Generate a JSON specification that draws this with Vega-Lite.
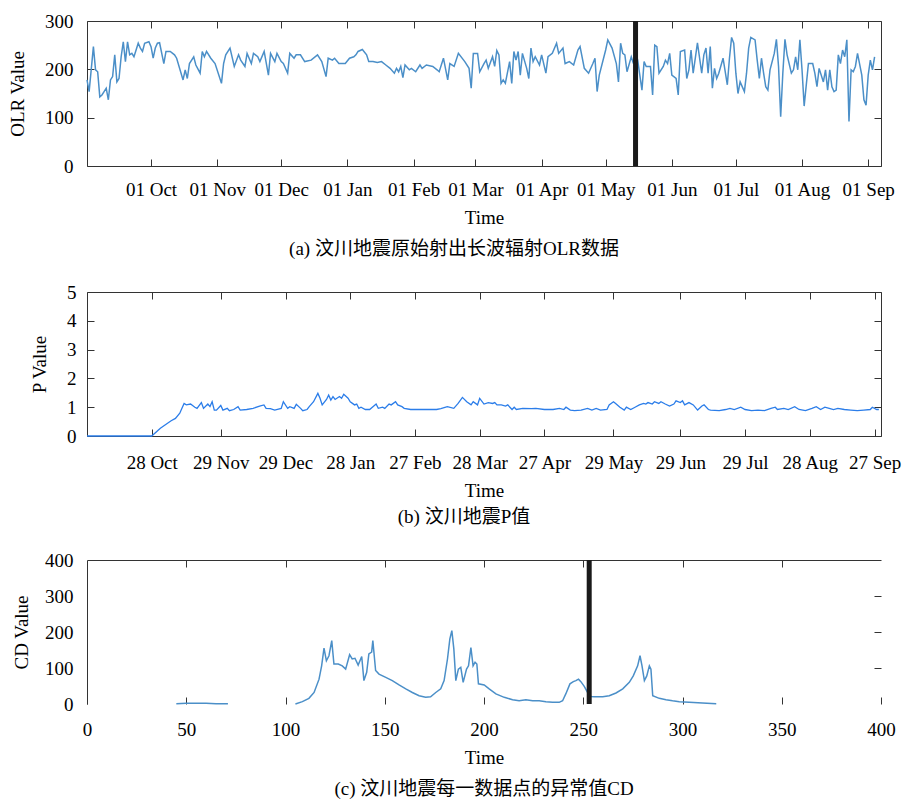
{
  "$schema": "https://vega.github.io/schema/vega-lite/v6.json",
  "padding": {"left": 8, "top": 12, "right": 2, "bottom": 2},
  "spacing": 24,
  "config": {
    "view": {"stroke": null},
    "axis": {
      "grid": false,
      "labelFont": "Liberation Serif",
      "labelFontSize": 19,
      "labelColor": "#000",
      "titleFont": "Liberation Serif",
      "titleFontSize": 19,
      "titleFontWeight": "normal",
      "titleColor": "#000",
      "domainColor": "#333",
      "tickColor": "#333",
      "tickSize": -7,
      "labelOverlap": false,
      "labelFlush": false
    },
    "title": {
      "font": "Liberation Serif, Noto Sans CJK SC",
      "fontSize": 19,
      "fontWeight": "normal",
      "color": "#000",
      "orient": "bottom",
      "anchor": "middle"
    }
  },
  "datasets": {
    "olr": [
      {"date":"2007-09-01","olr":178},{"date":"2007-09-02","olr":154},{"date":"2007-09-04","olr":247},{"date":"2007-09-05","olr":199},{"date":"2007-09-06","olr":195},{"date":"2007-09-07","olr":143},{"date":"2007-09-08","olr":147},{"date":"2007-09-09","olr":154},{"date":"2007-09-10","olr":161},{"date":"2007-09-11","olr":137},{"date":"2007-09-12","olr":178},{"date":"2007-09-13","olr":185},{"date":"2007-09-14","olr":230},{"date":"2007-09-15","olr":174},{"date":"2007-09-16","olr":181},{"date":"2007-09-17","olr":226},{"date":"2007-09-18","olr":257},{"date":"2007-09-19","olr":216},{"date":"2007-09-20","olr":257},{"date":"2007-09-21","olr":230},{"date":"2007-09-22","olr":233},{"date":"2007-09-23","olr":226},{"date":"2007-09-24","olr":240},{"date":"2007-09-25","olr":254},{"date":"2007-09-26","olr":244},{"date":"2007-09-27","olr":237},{"date":"2007-09-28","olr":254},{"date":"2007-09-30","olr":257},
      {"date":"2007-10-01","olr":247},{"date":"2007-10-02","olr":223},{"date":"2007-10-03","olr":244},{"date":"2007-10-04","olr":254},{"date":"2007-10-05","olr":255},{"date":"2007-10-07","olr":212},{"date":"2007-10-08","olr":237},{"date":"2007-10-10","olr":237},{"date":"2007-10-12","olr":230},{"date":"2007-10-13","olr":223},{"date":"2007-10-16","olr":178},{"date":"2007-10-17","olr":199},{"date":"2007-10-18","olr":181},{"date":"2007-10-19","olr":212},{"date":"2007-10-21","olr":226},{"date":"2007-10-22","olr":209},{"date":"2007-10-24","olr":192},{"date":"2007-10-25","olr":237},{"date":"2007-10-26","olr":226},{"date":"2007-10-27","olr":237},{"date":"2007-10-29","olr":223},{"date":"2007-10-31","olr":212},
      {"date":"2007-11-03","olr":171},{"date":"2007-11-04","olr":212},{"date":"2007-11-05","olr":230},{"date":"2007-11-07","olr":244},{"date":"2007-11-09","olr":206},{"date":"2007-11-11","olr":230},{"date":"2007-11-12","olr":219},{"date":"2007-11-14","olr":206},{"date":"2007-11-15","olr":233},{"date":"2007-11-17","olr":212},{"date":"2007-11-18","olr":233},{"date":"2007-11-20","olr":226},{"date":"2007-11-21","olr":216},{"date":"2007-11-23","olr":237},{"date":"2007-11-25","olr":188},{"date":"2007-11-26","olr":233},{"date":"2007-11-28","olr":216},{"date":"2007-11-29","olr":233},
      {"date":"2007-12-01","olr":216},{"date":"2007-12-02","olr":212},{"date":"2007-12-04","olr":192},{"date":"2007-12-05","olr":233},{"date":"2007-12-07","olr":223},{"date":"2007-12-08","olr":230},{"date":"2007-12-10","olr":230},{"date":"2007-12-12","olr":216},{"date":"2007-12-15","olr":219},{"date":"2007-12-18","olr":230},{"date":"2007-12-20","olr":216},{"date":"2007-12-22","olr":185},{"date":"2007-12-23","olr":223},{"date":"2007-12-25","olr":219},{"date":"2007-12-26","olr":223},{"date":"2007-12-28","olr":212},{"date":"2007-12-31","olr":212},
      {"date":"2008-01-02","olr":223},{"date":"2008-01-04","olr":226},{"date":"2008-01-05","olr":230},{"date":"2008-01-06","olr":237},{"date":"2008-01-08","olr":241},{"date":"2008-01-10","olr":230},{"date":"2008-01-11","olr":216},{"date":"2008-01-13","olr":216},{"date":"2008-01-15","olr":214},{"date":"2008-01-17","olr":216},{"date":"2008-01-19","olr":209},{"date":"2008-01-21","olr":202},{"date":"2008-01-23","olr":192},{"date":"2008-01-24","olr":202},{"date":"2008-01-25","olr":195},{"date":"2008-01-26","olr":206},{"date":"2008-01-27","olr":183},{"date":"2008-01-28","olr":209},{"date":"2008-01-30","olr":199},{"date":"2008-01-31","olr":202},
      {"date":"2008-02-02","olr":195},{"date":"2008-02-04","olr":209},{"date":"2008-02-05","olr":202},{"date":"2008-02-07","olr":209},{"date":"2008-02-10","olr":206},{"date":"2008-02-12","olr":199},{"date":"2008-02-13","olr":195},{"date":"2008-02-15","olr":223},{"date":"2008-02-17","olr":178},{"date":"2008-02-18","olr":212},{"date":"2008-02-20","olr":206},{"date":"2008-02-22","olr":233},{"date":"2008-02-25","olr":216},{"date":"2008-02-27","olr":202},{"date":"2008-02-28","olr":161},{"date":"2008-02-29","olr":233},
      {"date":"2008-03-02","olr":233},{"date":"2008-03-03","olr":195},{"date":"2008-03-05","olr":212},{"date":"2008-03-06","olr":219},{"date":"2008-03-07","olr":202},{"date":"2008-03-09","olr":226},{"date":"2008-03-10","olr":206},{"date":"2008-03-11","olr":239},{"date":"2008-03-12","olr":230},{"date":"2008-03-13","olr":171},{"date":"2008-03-14","olr":178},{"date":"2008-03-15","olr":171},{"date":"2008-03-17","olr":216},{"date":"2008-03-18","olr":171},{"date":"2008-03-19","olr":237},{"date":"2008-03-20","olr":219},{"date":"2008-03-21","olr":237},{"date":"2008-03-22","olr":188},{"date":"2008-03-23","olr":233},{"date":"2008-03-25","olr":202},{"date":"2008-03-26","olr":181},{"date":"2008-03-27","olr":244},{"date":"2008-03-28","olr":216},{"date":"2008-03-29","olr":226},{"date":"2008-03-31","olr":209},
      {"date":"2008-04-01","olr":230},{"date":"2008-04-03","olr":192},{"date":"2008-04-04","olr":226},{"date":"2008-04-06","olr":233},{"date":"2008-04-08","olr":254},{"date":"2008-04-09","olr":233},{"date":"2008-04-11","olr":244},{"date":"2008-04-12","olr":212},{"date":"2008-04-14","olr":216},{"date":"2008-04-16","olr":209},{"date":"2008-04-18","olr":240},{"date":"2008-04-19","olr":247},{"date":"2008-04-21","olr":202},{"date":"2008-04-23","olr":192},{"date":"2008-04-25","olr":212},{"date":"2008-04-26","olr":223},{"date":"2008-04-27","olr":154},{"date":"2008-04-28","olr":188},
      {"date":"2008-05-01","olr":240},{"date":"2008-05-02","olr":261},{"date":"2008-05-04","olr":244},{"date":"2008-05-06","olr":212},{"date":"2008-05-07","olr":174},{"date":"2008-05-08","olr":254},{"date":"2008-05-09","olr":233},{"date":"2008-05-10","olr":230},{"date":"2008-05-11","olr":195},{"date":"2008-05-13","olr":226},{"date":"2008-05-14","olr":212},{"date":"2008-05-15","olr":237},{"date":"2008-05-16","olr":219},{"date":"2008-05-18","olr":157},{"date":"2008-05-19","olr":216},{"date":"2008-05-20","olr":206},{"date":"2008-05-22","olr":206},{"date":"2008-05-23","olr":147},{"date":"2008-05-24","olr":250},{"date":"2008-05-25","olr":247},{"date":"2008-05-26","olr":192},{"date":"2008-05-28","olr":206},{"date":"2008-05-29","olr":219},{"date":"2008-05-30","olr":212},{"date":"2008-05-31","olr":233},
      {"date":"2008-06-01","olr":188},{"date":"2008-06-03","olr":181},{"date":"2008-06-04","olr":147},{"date":"2008-06-05","olr":237},{"date":"2008-06-07","olr":240},{"date":"2008-06-08","olr":181},{"date":"2008-06-09","olr":199},{"date":"2008-06-10","olr":240},{"date":"2008-06-11","olr":192},{"date":"2008-06-12","olr":223},{"date":"2008-06-13","olr":255},{"date":"2008-06-15","olr":192},{"date":"2008-06-16","olr":230},{"date":"2008-06-17","olr":244},{"date":"2008-06-18","olr":192},{"date":"2008-06-19","olr":247},{"date":"2008-06-20","olr":161},{"date":"2008-06-21","olr":202},{"date":"2008-06-22","olr":181},{"date":"2008-06-23","olr":192},{"date":"2008-06-25","olr":223},{"date":"2008-06-27","olr":168},{"date":"2008-06-28","olr":223},{"date":"2008-06-29","olr":266},{"date":"2008-06-30","olr":254},
      {"date":"2008-07-01","olr":192},{"date":"2008-07-02","olr":150},{"date":"2008-07-03","olr":174},{"date":"2008-07-05","olr":154},{"date":"2008-07-06","olr":192},{"date":"2008-07-07","olr":244},{"date":"2008-07-08","olr":266},{"date":"2008-07-10","olr":261},{"date":"2008-07-11","olr":219},{"date":"2008-07-12","olr":181},{"date":"2008-07-13","olr":223},{"date":"2008-07-14","olr":192},{"date":"2008-07-15","olr":164},{"date":"2008-07-16","olr":157},{"date":"2008-07-17","olr":199},{"date":"2008-07-19","olr":233},{"date":"2008-07-20","olr":262},{"date":"2008-07-21","olr":206},{"date":"2008-07-22","olr":102},{"date":"2008-07-23","olr":192},{"date":"2008-07-24","olr":262},{"date":"2008-07-25","olr":230},{"date":"2008-07-27","olr":192},{"date":"2008-07-28","olr":199},{"date":"2008-07-29","olr":226},{"date":"2008-07-30","olr":199},{"date":"2008-07-31","olr":261},
      {"date":"2008-08-01","olr":199},{"date":"2008-08-02","olr":124},{"date":"2008-08-04","olr":212},{"date":"2008-08-06","olr":212},{"date":"2008-08-07","olr":192},{"date":"2008-08-08","olr":164},{"date":"2008-08-09","olr":202},{"date":"2008-08-11","olr":174},{"date":"2008-08-12","olr":199},{"date":"2008-08-13","olr":157},{"date":"2008-08-14","olr":199},{"date":"2008-08-15","olr":164},{"date":"2008-08-16","olr":154},{"date":"2008-08-17","olr":157},{"date":"2008-08-18","olr":230},{"date":"2008-08-19","olr":212},{"date":"2008-08-20","olr":240},{"date":"2008-08-21","olr":226},{"date":"2008-08-22","olr":261},{"date":"2008-08-23","olr":92},{"date":"2008-08-24","olr":199},{"date":"2008-08-25","olr":195},{"date":"2008-08-26","olr":206},{"date":"2008-08-27","olr":233},{"date":"2008-08-29","olr":188},{"date":"2008-08-30","olr":137},{"date":"2008-08-31","olr":126},
      {"date":"2008-09-01","olr":188},{"date":"2008-09-02","olr":219},{"date":"2008-09-03","olr":199},{"date":"2008-09-04","olr":226}
    ],
    "pval": [
      {"date":"2007-09-28","p":0},{"date":"2007-10-28","p":0},{"date":"2007-11-01","p":0.27},{"date":"2007-11-06","p":0.53},{"date":"2007-11-08","p":0.61},{"date":"2007-11-10","p":0.79},{"date":"2007-11-11","p":0.96},{"date":"2007-11-12","p":1.13},{"date":"2007-11-13","p":1.08},{"date":"2007-11-15","p":1.11},{"date":"2007-11-17","p":1.0},{"date":"2007-11-18","p":0.96},{"date":"2007-11-20","p":1.16},{"date":"2007-11-21","p":0.96},{"date":"2007-11-23","p":1.11},{"date":"2007-11-24","p":1.02},{"date":"2007-11-25","p":1.19},{"date":"2007-11-26","p":0.9},{"date":"2007-11-27","p":0.9},{"date":"2007-11-29","p":1.06},{"date":"2007-11-30","p":0.9},
      {"date":"2007-12-02","p":0.96},{"date":"2007-12-03","p":0.88},{"date":"2007-12-05","p":0.92},{"date":"2007-12-07","p":1.02},{"date":"2007-12-08","p":0.9},{"date":"2007-12-11","p":0.92},{"date":"2007-12-14","p":0.96},{"date":"2007-12-17","p":1.04},{"date":"2007-12-19","p":1.08},{"date":"2007-12-20","p":0.96},{"date":"2007-12-22","p":0.95},{"date":"2007-12-24","p":0.9},{"date":"2007-12-27","p":0.96},{"date":"2007-12-28","p":1.19},{"date":"2007-12-30","p":0.96},{"date":"2007-12-31","p":1.02},
      {"date":"2008-01-02","p":0.96},{"date":"2008-01-03","p":1.1},{"date":"2008-01-05","p":0.96},{"date":"2008-01-06","p":0.88},{"date":"2008-01-08","p":0.92},{"date":"2008-01-09","p":1.02},{"date":"2008-01-11","p":1.19},{"date":"2008-01-13","p":1.48},{"date":"2008-01-14","p":1.31},{"date":"2008-01-15","p":1.08},{"date":"2008-01-17","p":1.27},{"date":"2008-01-18","p":1.42},{"date":"2008-01-19","p":1.25},{"date":"2008-01-20","p":1.37},{"date":"2008-01-21","p":1.27},{"date":"2008-01-23","p":1.37},{"date":"2008-01-24","p":1.31},{"date":"2008-01-25","p":1.45},{"date":"2008-01-27","p":1.31},{"date":"2008-01-28","p":1.19},{"date":"2008-01-30","p":1.08},{"date":"2008-01-31","p":1.11},
      {"date":"2008-02-01","p":0.96},{"date":"2008-02-02","p":1.0},{"date":"2008-02-04","p":0.92},{"date":"2008-02-06","p":0.92},{"date":"2008-02-09","p":1.11},{"date":"2008-02-10","p":0.96},{"date":"2008-02-12","p":1.0},{"date":"2008-02-13","p":0.96},{"date":"2008-02-15","p":1.11},{"date":"2008-02-16","p":1.08},{"date":"2008-02-18","p":1.19},{"date":"2008-02-19","p":1.08},{"date":"2008-02-21","p":1.02},{"date":"2008-02-22","p":0.96},{"date":"2008-02-25","p":0.92},{"date":"2008-02-29","p":0.92},
      {"date":"2008-03-05","p":0.92},{"date":"2008-03-08","p":0.92},{"date":"2008-03-10","p":0.95},{"date":"2008-03-13","p":1.02},{"date":"2008-03-16","p":0.96},{"date":"2008-03-18","p":1.13},{"date":"2008-03-20","p":1.34},{"date":"2008-03-22","p":1.19},{"date":"2008-03-24","p":1.08},{"date":"2008-03-25","p":1.19},{"date":"2008-03-27","p":1.08},{"date":"2008-03-28","p":1.31},{"date":"2008-03-30","p":1.11},
      {"date":"2008-04-01","p":1.16},{"date":"2008-04-03","p":1.13},{"date":"2008-04-04","p":1.16},{"date":"2008-04-05","p":1.08},{"date":"2008-04-07","p":1.08},{"date":"2008-04-09","p":1.04},{"date":"2008-04-10","p":1.08},{"date":"2008-04-12","p":0.92},{"date":"2008-04-13","p":1.0},{"date":"2008-04-14","p":0.92},{"date":"2008-04-17","p":0.96},{"date":"2008-04-21","p":0.95},{"date":"2008-04-23","p":0.96},{"date":"2008-04-27","p":0.92},
      {"date":"2008-05-01","p":0.92},{"date":"2008-05-04","p":0.96},{"date":"2008-05-06","p":0.92},{"date":"2008-05-07","p":1.0},{"date":"2008-05-09","p":0.9},{"date":"2008-05-11","p":0.88},{"date":"2008-05-14","p":0.9},{"date":"2008-05-17","p":0.96},{"date":"2008-05-19","p":0.9},{"date":"2008-05-21","p":0.96},{"date":"2008-05-23","p":0.9},{"date":"2008-05-26","p":0.92},{"date":"2008-05-27","p":1.08},{"date":"2008-05-29","p":1.19},{"date":"2008-05-30","p":1.13},
      {"date":"2008-06-01","p":1.0},{"date":"2008-06-03","p":0.9},{"date":"2008-06-04","p":1.0},{"date":"2008-06-06","p":0.92},{"date":"2008-06-08","p":1.0},{"date":"2008-06-10","p":1.08},{"date":"2008-06-12","p":1.13},{"date":"2008-06-13","p":1.11},{"date":"2008-06-14","p":1.16},{"date":"2008-06-16","p":1.11},{"date":"2008-06-17","p":1.19},{"date":"2008-06-19","p":1.13},{"date":"2008-06-20","p":1.19},{"date":"2008-06-22","p":1.11},{"date":"2008-06-24","p":1.04},{"date":"2008-06-26","p":1.11},{"date":"2008-06-27","p":1.22},{"date":"2008-06-29","p":1.16},{"date":"2008-06-30","p":1.22},
      {"date":"2008-07-01","p":1.08},{"date":"2008-07-03","p":1.16},{"date":"2008-07-05","p":1.08},{"date":"2008-07-07","p":0.9},{"date":"2008-07-09","p":1.04},{"date":"2008-07-10","p":1.08},{"date":"2008-07-12","p":0.92},{"date":"2008-07-13","p":0.9},{"date":"2008-07-17","p":0.88},{"date":"2008-07-20","p":0.92},{"date":"2008-07-22","p":0.96},{"date":"2008-07-24","p":0.92},{"date":"2008-07-27","p":1.0},{"date":"2008-07-29","p":0.92},
      {"date":"2008-08-01","p":0.88},{"date":"2008-08-04","p":0.9},{"date":"2008-08-07","p":0.88},{"date":"2008-08-10","p":0.96},{"date":"2008-08-12","p":1.0},{"date":"2008-08-13","p":0.92},{"date":"2008-08-16","p":0.96},{"date":"2008-08-18","p":0.92},{"date":"2008-08-21","p":1.02},{"date":"2008-08-23","p":0.92},{"date":"2008-08-26","p":0.88},{"date":"2008-08-29","p":0.96},{"date":"2008-08-31","p":1.02},
      {"date":"2008-09-02","p":0.92},{"date":"2008-09-04","p":1.0},{"date":"2008-09-06","p":0.96},{"date":"2008-09-08","p":0.92},{"date":"2008-09-10","p":0.96},{"date":"2008-09-13","p":0.92},{"date":"2008-09-16","p":0.9},{"date":"2008-09-19","p":0.88},{"date":"2008-09-22","p":0.9},{"date":"2008-09-25","p":0.92},{"date":"2008-09-26","p":1.0},{"date":"2008-09-28","p":0.92},{"date":"2008-09-29","p":0.92}
    ],
    "cd": [
      {"t":45,"cd":1,"seg":1},{"t":50,"cd":2,"seg":1},{"t":55,"cd":2,"seg":1},{"t":60,"cd":2,"seg":1},{"t":65,"cd":1,"seg":1},{"t":71,"cd":1,"seg":1},
      {"t":105,"cd":0,"seg":2},{"t":108.5,"cd":6.5,"seg":2},{"t":111.8,"cd":15.7,"seg":2},{"t":114.4,"cd":32,"seg":2},{"t":116.9,"cd":69,"seg":2},{"t":118.2,"cd":106,"seg":2},{"t":119.4,"cd":155,"seg":2},{"t":120.6,"cd":120,"seg":2},{"t":121.9,"cd":134,"seg":2},{"t":123.3,"cd":176,"seg":2},{"t":124.4,"cd":111,"seg":2},{"t":126.6,"cd":111,"seg":2},{"t":128.6,"cd":106,"seg":2},{"t":130.3,"cd":97,"seg":2},{"t":132.3,"cd":137,"seg":2},{"t":133.6,"cd":125,"seg":2},{"t":135,"cd":127,"seg":2},{"t":136.6,"cd":108,"seg":2},{"t":138.4,"cd":132,"seg":2},{"t":139.5,"cd":65,"seg":2},{"t":140.9,"cd":88,"seg":2},{"t":142,"cd":139,"seg":2},{"t":143.4,"cd":144,"seg":2},{"t":144,"cd":176,"seg":2},{"t":145.4,"cd":93,"seg":2},{"t":147.1,"cd":83,"seg":2},{"t":150.5,"cd":74,"seg":2},{"t":153.8,"cd":65,"seg":2},{"t":157.2,"cd":53,"seg":2},{"t":160.6,"cd":42,"seg":2},{"t":163.9,"cd":32,"seg":2},{"t":167.3,"cd":23,"seg":2},{"t":170.6,"cd":18.5,"seg":2},{"t":173.1,"cd":20,"seg":2},{"t":175.7,"cd":32,"seg":2},{"t":178.2,"cd":42,"seg":2},{"t":179.9,"cd":65,"seg":2},{"t":181.6,"cd":125,"seg":2},{"t":182.8,"cd":181,"seg":2},{"t":183.8,"cd":204,"seg":2},{"t":184.8,"cd":153,"seg":2},{"t":185.8,"cd":65,"seg":2},{"t":187.1,"cd":97,"seg":2},{"t":188.3,"cd":102,"seg":2},{"t":189.5,"cd":60,"seg":2},{"t":191.2,"cd":97,"seg":2},{"t":192.2,"cd":106,"seg":2},{"t":193.4,"cd":157,"seg":2},{"t":194.5,"cd":106,"seg":2},{"t":195.5,"cd":116,"seg":2},{"t":196.4,"cd":111,"seg":2},{"t":197.2,"cd":56,"seg":2},{"t":200.1,"cd":53,"seg":2},{"t":202.6,"cd":42,"seg":2},{"t":206,"cd":28,"seg":2},{"t":210.2,"cd":18.5,"seg":2},{"t":214.4,"cd":12,"seg":2},{"t":217.7,"cd":9,"seg":2},{"t":221.1,"cd":12,"seg":2},{"t":224.5,"cd":9,"seg":2},{"t":227.8,"cd":9,"seg":2},{"t":231.2,"cd":6.5,"seg":2},{"t":234.5,"cd":4.6,"seg":2},{"t":237.9,"cd":4.6,"seg":2},{"t":239.6,"cd":9,"seg":2},{"t":241.2,"cd":28,"seg":2},{"t":243.3,"cd":56,"seg":2},{"t":245,"cd":62,"seg":2},{"t":246.3,"cd":65,"seg":2},{"t":247.6,"cd":69,"seg":2},{"t":248.8,"cd":62,"seg":2},{"t":250.5,"cd":49,"seg":2},{"t":252.2,"cd":32,"seg":2},{"t":253.9,"cd":21,"seg":2},{"t":255.6,"cd":20,"seg":2},{"t":259.8,"cd":20,"seg":2},{"t":263.1,"cd":23,"seg":2},{"t":266.5,"cd":30.6,"seg":2},{"t":269.9,"cd":42,"seg":2},{"t":273.2,"cd":60,"seg":2},{"t":275.2,"cd":78,"seg":2},{"t":277.4,"cd":106,"seg":2},{"t":278.6,"cd":134,"seg":2},{"t":279.6,"cd":106,"seg":2},{"t":280.8,"cd":65,"seg":2},{"t":282,"cd":78,"seg":2},{"t":283.3,"cd":106,"seg":2},{"t":284.1,"cd":97,"seg":2},{"t":285,"cd":23,"seg":2},{"t":288.3,"cd":15.7,"seg":2},{"t":291.7,"cd":12,"seg":2},{"t":295,"cd":9,"seg":2},{"t":298.4,"cd":6.5,"seg":2},{"t":303.4,"cd":4.6,"seg":2},{"t":310,"cd":2.5,"seg":2},{"t":317,"cd":1,"seg":2}
    ]
  },
  "vconcat": [
    {
      "width": 794,
      "height": 145,
      "title": {"text": "(a) 汶川地震原始射出长波辐射OLR数据", "dx": -30, "offset": 13},
      "layer": [
        {
          "data": {"name": "olr"},
          "mark": {"type": "line", "color": "#4b8fc8", "strokeWidth": 1.5},
          "encoding": {
            "x": {
              "field": "date", "type": "temporal",
              "scale": {"type": "utc", "domain": [{"year": 2007, "month": 9, "date": 1, "utc": true}, {"year": 2008, "month": 9, "date": 7, "utc": true}]},
              "axis": {
                "orient": "bottom", "title": "Time", "format": "%d %b", "labelPadding": 21, "titlePadding": 9,
                "values": [
                  {"year": 2007, "month": 10, "date": 1, "utc": true}, {"year": 2007, "month": 11, "date": 1, "utc": true}, {"year": 2007, "month": 12, "date": 1, "utc": true},
                  {"year": 2008, "month": 1, "date": 1, "utc": true}, {"year": 2008, "month": 2, "date": 1, "utc": true}, {"year": 2008, "month": 3, "date": 1, "utc": true},
                  {"year": 2008, "month": 4, "date": 1, "utc": true}, {"year": 2008, "month": 5, "date": 1, "utc": true}, {"year": 2008, "month": 6, "date": 1, "utc": true},
                  {"year": 2008, "month": 7, "date": 1, "utc": true}, {"year": 2008, "month": 8, "date": 1, "utc": true}, {"year": 2008, "month": 9, "date": 1, "utc": true}
                ]
              }
            },
            "y": {
              "field": "olr", "type": "quantitative",
              "scale": {"domain": [0, 300]},
              "axis": {"orient": "left", "title": "OLR Value", "values": [0, 100, 200, 300], "labelPadding": 21, "titlePadding": 17}
            }
          }
        },
        {
          "data": {"values": [{"date": "2008-05-15"}]},
          "mark": {"type": "rule", "color": "#1a1a1a", "strokeWidth": 5},
          "encoding": {
            "x": {
              "field": "date", "type": "temporal",
              "scale": {"type": "utc", "domain": [{"year": 2007, "month": 9, "date": 1, "utc": true}, {"year": 2008, "month": 9, "date": 7, "utc": true}]},
              "axis": {
                "orient": "top", "title": null, "labels": false,
                "values": [
                  {"year": 2007, "month": 10, "date": 1, "utc": true}, {"year": 2007, "month": 11, "date": 1, "utc": true}, {"year": 2007, "month": 12, "date": 1, "utc": true},
                  {"year": 2008, "month": 1, "date": 1, "utc": true}, {"year": 2008, "month": 2, "date": 1, "utc": true}, {"year": 2008, "month": 3, "date": 1, "utc": true},
                  {"year": 2008, "month": 4, "date": 1, "utc": true}, {"year": 2008, "month": 5, "date": 1, "utc": true}, {"year": 2008, "month": 6, "date": 1, "utc": true},
                  {"year": 2008, "month": 7, "date": 1, "utc": true}, {"year": 2008, "month": 8, "date": 1, "utc": true}, {"year": 2008, "month": 9, "date": 1, "utc": true}
                ]
              }
            }
          }
        },
        {
          "data": {"values": [{}]},
          "mark": {"type": "rule", "opacity": 0},
          "encoding": {
            "y": {"datum": 0, "type": "quantitative", "scale": {"domain": [0, 300]}, "axis": {"orient": "right", "title": null, "labels": false, "values": [0, 100, 200, 300]}}
          }
        }
      ],
      "resolve": {"axis": {"x": "independent", "y": "independent"}}
    },
    {
      "width": 794,
      "height": 144,
      "title": {"text": "(b) 汶川地震P值", "dx": -20, "offset": 7.5},
      "layer": [
        {
          "data": {"name": "pval"},
          "mark": {"type": "line", "color": "#2b7de9", "strokeWidth": 1.3},
          "encoding": {
            "x": {
              "field": "date", "type": "temporal",
              "scale": {"type": "utc", "domain": [{"year": 2007, "month": 9, "date": 28, "utc": true}, {"year": 2008, "month": 9, "date": 30, "utc": true}]},
              "axis": {
                "orient": "bottom", "title": "Time", "format": "%d %b", "labelPadding": 24, "titlePadding": 9,
                "values": [
                  {"year": 2007, "month": 10, "date": 28, "utc": true}, {"year": 2007, "month": 11, "date": 29, "utc": true}, {"year": 2007, "month": 12, "date": 29, "utc": true},
                  {"year": 2008, "month": 1, "date": 28, "utc": true}, {"year": 2008, "month": 2, "date": 27, "utc": true}, {"year": 2008, "month": 3, "date": 28, "utc": true},
                  {"year": 2008, "month": 4, "date": 27, "utc": true}, {"year": 2008, "month": 5, "date": 29, "utc": true}, {"year": 2008, "month": 6, "date": 29, "utc": true},
                  {"year": 2008, "month": 7, "date": 29, "utc": true}, {"year": 2008, "month": 8, "date": 28, "utc": true}, {"year": 2008, "month": 9, "date": 27, "utc": true}
                ]
              }
            },
            "y": {
              "field": "p", "type": "quantitative",
              "scale": {"domain": [0, 5]},
              "axis": {"orient": "left", "title": "P Value", "values": [0, 1, 2, 3, 4, 5], "labelPadding": 18, "titlePadding": 17}
            }
          }
        },
        {
          "data": {"values": [{}]},
          "mark": {"type": "rule", "opacity": 0},
          "encoding": {
            "x": {
              "datum": {"year": 2008, "month": 3, "date": 1, "utc": true}, "type": "temporal",
              "scale": {"type": "utc", "domain": [{"year": 2007, "month": 9, "date": 28, "utc": true}, {"year": 2008, "month": 9, "date": 30, "utc": true}]},
              "axis": {
                "orient": "top", "title": null, "labels": false,
                "values": [
                  {"year": 2007, "month": 10, "date": 28, "utc": true}, {"year": 2007, "month": 11, "date": 29, "utc": true}, {"year": 2007, "month": 12, "date": 29, "utc": true},
                  {"year": 2008, "month": 1, "date": 28, "utc": true}, {"year": 2008, "month": 2, "date": 27, "utc": true}, {"year": 2008, "month": 3, "date": 28, "utc": true},
                  {"year": 2008, "month": 4, "date": 27, "utc": true}, {"year": 2008, "month": 5, "date": 29, "utc": true}, {"year": 2008, "month": 6, "date": 29, "utc": true},
                  {"year": 2008, "month": 7, "date": 29, "utc": true}, {"year": 2008, "month": 8, "date": 28, "utc": true}, {"year": 2008, "month": 9, "date": 27, "utc": true}
                ]
              }
            },
            "y": {"datum": 1, "type": "quantitative", "scale": {"domain": [0, 5]}, "axis": {"orient": "right", "title": null, "labels": false, "values": [0, 1, 2, 3, 4, 5]}}
          }
        }
      ],
      "resolve": {"axis": {"x": "independent", "y": "independent"}}
    },
    {
      "width": 794,
      "height": 144,
      "title": {"text": "(c) 汶川地震每一数据点的异常值CD", "dx": 0, "offset": 12.5},
      "layer": [
        {
          "data": {"name": "cd"},
          "mark": {"type": "line", "color": "#4b8fc8", "strokeWidth": 1.5},
          "encoding": {
            "x": {
              "field": "t", "type": "quantitative",
              "scale": {"domain": [0, 400]},
              "axis": {"orient": "bottom", "title": "Time", "domain": false, "values": [0, 50, 100, 150, 200, 250, 300, 350, 400], "labelPadding": 23.5, "titlePadding": 9}
            },
            "y": {
              "field": "cd", "type": "quantitative",
              "scale": {"domain": [0, 400]},
              "axis": {"orient": "left", "title": "CD Value", "ticks": false, "values": [0, 100, 200, 300, 400], "labelPadding": 14, "titlePadding": 13}
            },
            "detail": {"field": "seg", "type": "nominal"}
          }
        },
        {
          "data": {"values": [{"t": 253}]},
          "mark": {"type": "rule", "color": "#1a1a1a", "strokeWidth": 5},
          "encoding": {
            "x": {
              "field": "t", "type": "quantitative",
              "scale": {"domain": [0, 400]},
              "axis": {"orient": "top", "title": null, "labels": false, "values": [50, 100, 150, 200, 250, 300, 350]}
            }
          }
        },
        {
          "data": {"values": [{}]},
          "mark": {"type": "rule", "opacity": 0},
          "encoding": {
            "y": {"datum": 0, "type": "quantitative", "scale": {"domain": [0, 400]}, "axis": {"orient": "right", "title": null, "labels": false, "domain": false, "values": [100, 200, 300]}}
          }
        }
      ],
      "resolve": {"axis": {"x": "independent", "y": "independent"}}
    }
  ]
}
